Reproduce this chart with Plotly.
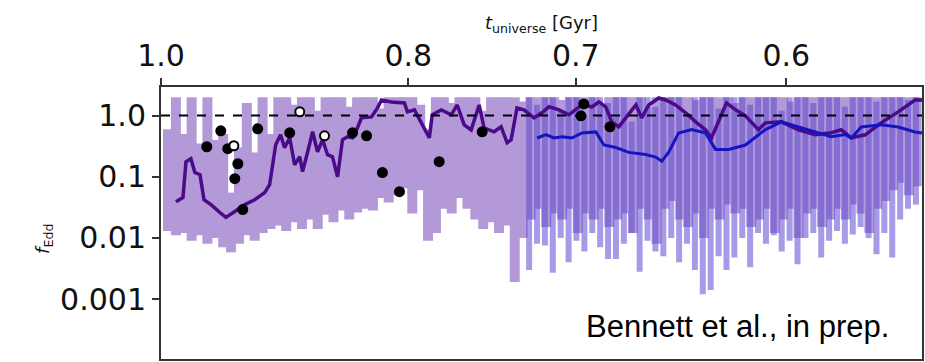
import numpy as np
import plotly.graph_objects as go

# ---------------- data (x = redshift-like coordinate, y = f_Edd) ----------------
X_TICK_POS = [5.700, 6.759, 7.476, 8.377]
X_TICK_TEXT = ["1.0", "0.8", "0.7", "0.6"]
Y_TICK_VALS = [1.0, 0.1, 0.01, 0.001]
Y_TICK_TEXT = ["1.0", "0.1", "0.01", "0.001"]

# noisy accretion history 1 (lavender), sampled on a uniform grid
A_Z0, A_Z1 = 5.730, 8.935
A_HI = [0.6, 2.0, 0.5, 2.0, 0.35, 2.0, 0.4, 0.5, 0.055, 0.3,
        1.6, 0.25, 2.0, 0.5, 2.0, 2.0, 1.5, 2.0, 2.0, 1.2,
        2.0, 2.0, 2.0, 1.4, 2.0, 2.0, 2.0, 1.3, 2.0, 2.0,
        2.0, 2.0, 1.5, 0.6, 2.0, 2.0, 1.6, 2.0, 2.0, 2.0,
        1.2, 2.0, 2.0, 2.0, 2.0, 1.7, 2.0, 2.0, 2.0, 2.0,
        1.8, 2.0, 2.0, 2.0, 2.0, 1.5, 2.0, 2.0, 2.0, 2.0,
        2.0, 1.4, 2.0, 2.0, 2.0, 2.0, 2.0, 1.8, 2.0, 2.0,
        2.0, 2.0, 1.6, 2.0, 2.0, 2.0, 2.0, 2.0, 2.0, 1.7,
        2.0, 2.0, 2.0, 2.0, 2.0, 2.0, 2.0, 2.0, 2.0, 2.0,
        2.0, 2.0, 2.0, 2.0, 2.0, 2.0]
A_LO = [0.013, 0.011, 0.012, 0.009, 0.011, 0.008, 0.01, 0.007, 0.0058, 0.008,
        0.011, 0.009, 0.012, 0.014, 0.016, 0.013, 0.018, 0.014, 0.02, 0.014,
        0.024, 0.018, 0.028, 0.02, 0.026, 0.03, 0.028, 0.045, 0.038, 0.05,
        0.065, 0.025, 0.06, 0.009, 0.012, 0.03, 0.025, 0.045, 0.03, 0.02,
        0.014, 0.018, 0.012, 0.016, 0.0019, 0.01, 0.02, 0.03, 0.015, 0.025,
        0.02, 0.03, 0.012, 0.025, 0.02, 0.03, 0.015, 0.02, 0.025, 0.012,
        0.03, 0.02, 0.008, 0.03, 0.04, 0.02, 0.015, 0.025, 0.01, 0.03,
        0.02, 0.035, 0.025, 0.03, 0.015, 0.02, 0.03, 0.012, 0.02, 0.03,
        0.01, 0.025, 0.03, 0.015, 0.02, 0.03, 0.02, 0.035, 0.025, 0.012,
        0.03, 0.04, 0.06, 0.08, 0.05, 0.07]

# noisy accretion history 2 (periwinkle), uniform grid
C_Z0, C_Z1 = 7.276, 8.932
C_HI = [2.0, 1.5, 2.0, 2.0, 1.2, 2.0, 2.0, 1.0, 2.0, 2.0,
        1.6, 2.0, 2.0, 0.8, 2.0, 2.0, 1.4, 2.0, 2.0, 2.0,
        1.1, 2.0, 2.0, 2.0, 1.3, 2.0, 2.0, 2.0, 1.5, 2.0,
        2.0, 2.0, 1.2, 2.0, 2.0, 2.0, 1.6, 2.0, 2.0, 2.0,
        1.4, 2.0, 2.0, 2.0, 1.7, 2.0, 2.0, 2.0, 1.8, 2.0]
C_LO = [0.003, 0.008, 0.0075, 0.0027, 0.01, 0.004, 0.009, 0.006, 0.012, 0.007,
        0.0045, 0.0045, 0.008, 0.012, 0.0028, 0.009, 0.006, 0.005, 0.01, 0.004,
        0.008, 0.003, 0.0012, 0.0014, 0.005, 0.003, 0.0048, 0.01, 0.0033, 0.012,
        0.008, 0.011, 0.006, 0.009, 0.0037, 0.01, 0.012, 0.0048, 0.009, 0.013,
        0.008, 0.0114, 0.015, 0.01, 0.0054, 0.012, 0.0048, 0.02, 0.03, 0.035]

# smoothed history 1 (dark purple)
PURPLE_Z = [5.764, 5.794, 5.807, 5.828, 5.845, 5.867, 5.884, 5.914, 5.952, 5.978,
            6.016, 6.059, 6.101, 6.144, 6.165, 6.178, 6.191, 6.212, 6.229, 6.251,
            6.272, 6.294, 6.306, 6.328, 6.349, 6.370, 6.392, 6.413, 6.434, 6.456,
            6.477, 6.498, 6.520, 6.541, 6.558, 6.601, 6.627, 6.644, 6.686, 6.742,
            6.755, 6.785, 6.814, 6.836, 6.849, 6.861, 6.900, 6.943, 6.968, 6.998,
            7.028, 7.062, 7.083, 7.126, 7.156, 7.182, 7.199, 7.224, 7.254, 7.297,
            7.331, 7.361, 7.404, 7.446, 7.502, 7.545, 7.575, 7.604, 7.630, 7.660,
            7.690, 7.733, 7.758, 7.788, 7.831, 7.861, 7.903, 7.946, 7.989, 8.031,
            8.057, 8.087, 8.121, 8.160, 8.202, 8.258, 8.288, 8.356, 8.429, 8.501,
            8.569, 8.612, 8.655, 8.715, 8.783, 8.856, 8.928, 8.958]
PURPLE_F = [0.039, 0.046, 0.176, 0.197, 0.117, 0.108, 0.042, 0.035, 0.026, 0.0216,
            0.027, 0.035, 0.042, 0.055, 0.074, 0.176, 0.333, 0.485, 0.298, 0.433,
            0.157, 0.212, 0.121, 0.256, 0.543, 0.256, 0.402, 0.229, 0.212, 0.10,
            0.402, 0.45, 0.433, 0.631, 0.918, 0.952, 1.335, 1.80, 1.67, 1.61,
            1.15, 1.24, 0.789, 0.543, 0.433, 1.03, 1.24, 1.03, 1.49, 0.706,
            0.585, 1.49, 0.631, 0.543, 0.654, 0.359, 0.402, 1.335, 1.24, 0.918,
            1.11, 1.39, 1.24, 1.03, 1.49, 1.39, 1.67, 1.39, 0.789, 0.654,
            0.918, 1.49, 0.918, 1.49, 1.94, 1.80, 1.49, 1.11, 0.789, 0.585,
            0.433, 0.789, 1.61, 1.24, 0.99, 0.585, 0.76, 0.789, 0.585, 0.485,
            0.523, 0.585, 0.433, 0.485, 0.76, 1.15, 1.80, 1.80]

# smoothed history 2 (blue)
BLUE_Z = [7.310, 7.348, 7.382, 7.417, 7.459, 7.502, 7.562, 7.596, 7.647, 7.703,
          7.775, 7.818, 7.844, 7.873, 7.916, 7.972, 8.031, 8.074, 8.130, 8.202,
          8.288, 8.356, 8.429, 8.501, 8.569, 8.629, 8.655, 8.698, 8.783, 8.856,
          8.928, 8.958]
BLUE_F = [0.43, 0.49, 0.43, 0.45, 0.43, 0.52, 0.54, 0.33, 0.30, 0.25,
          0.23, 0.21, 0.18, 0.25, 0.52, 0.59, 0.52, 0.28, 0.28, 0.33,
          0.59, 0.79, 0.65, 0.54, 0.45, 0.49, 0.43, 0.65, 0.71, 0.65,
          0.54, 0.52]

# observed quasars
DOT_Z = [5.896, 5.956, 5.986, 6.029, 6.016, 6.050, 6.114, 6.251, 6.520, 6.580,
         6.648, 6.721, 6.891, 7.075, 7.510, 7.498, 7.622]
DOT_F = [0.309, 0.563, 0.287, 0.163, 0.093, 0.029, 0.607, 0.523, 0.523, 0.467,
         0.117, 0.057, 0.176, 0.543, 1.55, 0.99, 0.654]
OPEN_Z = [6.012, 6.294, 6.400]
OPEN_F = [0.321, 1.15, 0.467]

EDDINGTON = 1.0
X_RANGE = [5.700, 8.958]
Y_RANGE_LOG = [-3.98, 0.467]


def segments(xs, lo, hi):
    X, Y = [], []
    for x, a, b in zip(xs, lo, hi):
        X += [x, x, None]
        Y += [a, b, None]
    return X, Y


a_z = np.linspace(A_Z0, A_Z1, len(A_HI))
c_z = np.linspace(C_Z0, C_Z1, len(C_HI))
ax_, ay_ = segments(a_z, A_LO, A_HI)
cx_, cy_ = segments(c_z, C_LO, C_HI)

fig = go.Figure()
fig.add_trace(go.Scatter(x=ax_, y=ay_, mode="lines",
                         line=dict(color="rgb(140,100,195)", width=10),
                         opacity=0.65, hoverinfo="skip"))
fig.add_trace(go.Scatter(x=cx_, y=cy_, mode="lines",
                         line=dict(color="rgb(95,75,210)", width=6),
                         opacity=0.55, hoverinfo="skip"))
fig.add_trace(go.Scatter(x=PURPLE_Z, y=PURPLE_F, mode="lines",
                         line=dict(color="#4b0a8a", width=3.5)))
fig.add_trace(go.Scatter(x=BLUE_Z, y=BLUE_F, mode="lines",
                         line=dict(color="#1414c0", width=3)))
fig.add_hline(y=EDDINGTON, line=dict(color="black", width=2, dash="dash"))
fig.add_trace(go.Scatter(x=DOT_Z, y=DOT_F, mode="markers",
                         marker=dict(color="black", size=11)))
fig.add_trace(go.Scatter(x=OPEN_Z, y=OPEN_F, mode="markers",
                         marker=dict(color="white", size=9,
                                     line=dict(color="black", width=2))))

axis_common = dict(showline=True, mirror=True, linecolor="#333", linewidth=2,
                   ticks="outside", ticklen=7, tickwidth=1.5, tickcolor="#333",
                   showgrid=False, zeroline=False,
                   tickfont=dict(family="DejaVu Sans", size=30, color="#111"))

fig.update_layout(
    width=925, height=362,
    margin=dict(l=161, r=1, t=87, b=2),
    plot_bgcolor="white", paper_bgcolor="white",
    showlegend=False,
    xaxis=dict(side="top", range=X_RANGE, tickvals=X_TICK_POS,
               ticktext=X_TICK_TEXT, **axis_common),
    yaxis=dict(type="log", range=Y_RANGE_LOG, tickvals=Y_TICK_VALS,
               ticktext=Y_TICK_TEXT, **axis_common),
    annotations=[
        dict(text="<i>t</i><sub>universe</sub> [Gyr]", xref="paper", yref="paper",
             x=0.50, y=1.232, xanchor="center", yanchor="middle", showarrow=False,
             font=dict(family="DejaVu Sans", size=18, color="#111")),
        dict(text="<i>f</i><sub>Edd</sub>", xref="paper", yref="paper",
             x=-0.153, y=0.44, xanchor="center", yanchor="middle", showarrow=False,
             textangle=-90,
             font=dict(family="DejaVu Sans", size=18, color="#111")),
        dict(text="Bennett et al., in prep.", xref="paper", yref="paper",
             x=0.959, y=0.121, xanchor="right", yanchor="middle", showarrow=False,
             font=dict(family="Liberation Sans", size=31, color="black")),
    ],
)

fig.write_html("out.html")
